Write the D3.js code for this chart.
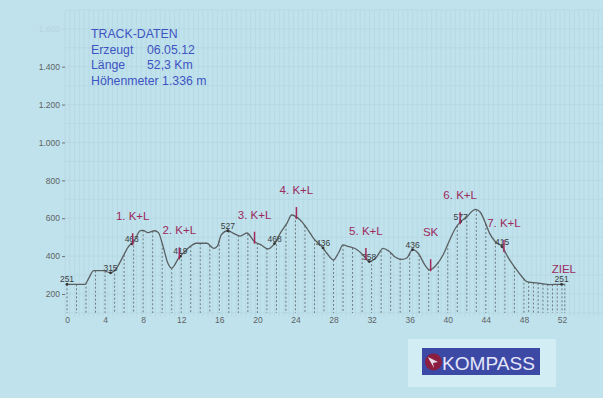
<!DOCTYPE html>
<html><head><meta charset="utf-8">
<script src="https://cdn.jsdelivr.net/npm/d3@7/dist/d3.min.js"></script>
<style>
html,body{margin:0;padding:0;background:#c0e2ec;}
svg{display:block;font-family:"Liberation Sans",Arial,sans-serif;}
</style></head>
<body>
<svg id="chart" width="603" height="398"></svg>
<script>
// ---- data ----
const profileKm   = [0, 1.9, 2.3, 2.8, 3.8, 4.57, 5.2, 5.7, 6.6, 6.9, 7.2, 7.7, 8.0, 8.5, 9.2, 9.6, 10.1, 10.6, 11.0, 11.3, 11.7, 12.2, 12.9, 13.6, 14.7, 15.4, 15.8, 16.2, 16.9, 17.6, 18.2, 18.9, 19.7, 20.4, 21.1, 21.8, 22.5, 23.1, 23.6, 24.0, 24.5, 25.2, 25.9, 26.9, 27.3, 28.0, 28.5, 29.0, 29.5, 30.4, 31.1, 31.75, 32.5, 33.2, 33.8, 34.5, 35.2, 35.7, 36.3, 36.9, 37.6, 38.1, 38.8, 39.5, 40.2, 40.8, 41.35, 42.0, 42.9, 43.4, 43.9, 44.4, 45.0, 45.7, 46.4, 47.1, 47.8, 48.3, 49.7, 50.7, 51.95, 52.3];
const profileElev = [251, 251, 285, 323, 323, 312, 336, 380, 459, 468, 494, 534, 536, 524, 534, 524, 450, 362, 336, 353, 388, 415, 450, 468, 468, 441, 453, 512, 534, 517, 506, 522, 476, 459, 438, 466, 529, 573, 617, 610, 591, 547, 494, 443, 415, 380, 415, 459, 452, 436, 406, 371, 394, 441, 427, 394, 383, 390, 434, 415, 353, 327, 353, 406, 485, 547, 582, 608, 647, 633, 582, 520, 476, 450, 388, 336, 291, 265, 256, 250, 251, 251];

const yTicks = [200, 400, 600, 800, 1000, 1200, 1400];
const yFaintTicks = [1600];
const xTicks = [0, 4, 8, 12, 16, 20, 24, 28, 32, 36, 40, 44, 48, 52];

const stopKm     = [6.9, 11.8, 19.7, 24.1, 31.4, 38.2, 41.3, 45.9];
const stopLabels = ["1. K+L", "2. K+L", "3. K+L", "4. K+L", "5. K+L", "SK", "6. K+L", "7. K+L"];

const heightKm     = [0, 4.57, 6.8, 11.9, 16.9, 21.8, 26.9, 31.75, 36.3, 41.35, 45.7, 51.95];
const heightLabels = ["251", "315", "463", "419", "527", "468", "436", "358", "436", "577", "415", "251"];

const finishKm = 52.3;
const finishLabel = "ZIEL";

const infoTitle = "TRACK-DATEN";
const infoRows = [["Erzeugt", "06.05.12"], ["Länge", "52,3 Km"], ["Höhenmeter 1.336 m", ""]];
const brandName = "KOMPASS";

// ---- drawing ----
const svg = d3.select("#chart");
const x = d3.scaleLinear().domain([0, 52]).range([67, 562]);
const y = d3.scaleLinear().domain([200, 1400]).range([294, 66.7]);
const de = d3.formatLocale({decimal: ",", thousands: ".", grouping: [3], currency: ["", " €"]});
const fmt = de.format(",");

// background
svg.append("rect").attr("width", 603).attr("height", 398).attr("fill", "#c0e2ec");

// faint grid
const grid = svg.append("g").attr("stroke", "#8fb9c8").attr("stroke-width", 0.6).attr("opacity", 0.3);
const gx = d3.range(-0.2, 56.5, 0.5);
grid.selectAll("line.v").data(gx).join("line")
  .attr("x1", d => x(d)).attr("x2", d => x(d))
  .attr("y1", 10).attr("y2", y(80));
const gy = d3.range(100, 1800, 100);
grid.selectAll("line.h").data(gy).join("line")
  .attr("x1", x(-0.2)).attr("x2", 603)
  .attr("y1", d => y(d)).attr("y2", d => y(d));

// interpolation helper over profile data
const profile = profileKm.map((k, i) => ({km: k, elev: profileElev[i]}));
const bis = d3.bisector(d => d.km).left;
function elevAt(k) {
  const i = Math.max(1, Math.min(profile.length - 1, bis(profile, k)));
  const a = profile[i - 1], b = profile[i];
  const t = (k - a.km) / (b.km - a.km);
  return a.elev + t * (b.elev - a.elev);
}

// dashed drop lines every km
const drops = d3.range(0, 53, 1).concat([48.5, 49.5, 50.5, 51.5, 52.3]);
svg.append("g").selectAll("line").data(drops).join("line")
  .attr("x1", d => x(d)).attr("x2", d => x(d))
  .attr("y1", d => y(elevAt(d))).attr("y2", y(100))
  .attr("stroke", "#5f6d73").attr("stroke-width", 0.9).attr("stroke-dasharray", "2,2");

// profile line
const line = d3.line().x(d => x(d.km)).y(d => y(d.elev)).curve(d3.curveMonotoneX);
svg.append("path").datum(profile).attr("d", line)
  .attr("fill", "none").attr("stroke", "#5a5f62").attr("stroke-width", 1.3);

// y axis
const yAxis = d3.axisLeft(y).tickValues(yTicks).tickFormat(fmt).tickSize(3).tickPadding(2);
const ya = svg.append("g").attr("transform", "translate(65,0)").call(yAxis);
const yAxis2 = d3.axisLeft(d3.scaleLinear().domain([200, 1600]).range([294, y(1600)]))
  .tickValues(yFaintTicks).tickFormat(fmt).tickSize(3).tickPadding(2);
const ya2 = svg.append("g").attr("transform", "translate(65,0)").attr("opacity", 0.1).call(yAxis2);
[ya, ya2].forEach(g => {
  g.select(".domain").remove();
  g.selectAll("line").attr("stroke", "#6d7275");
  g.selectAll("text").attr("fill", "#5d6265").attr("font-size", 8.5).attr("font-family", "Liberation Sans, Arial, sans-serif");
});

// x axis
const xAxis = d3.axisBottom(x).tickValues(xTicks).tickFormat(d3.format("d")).tickSize(0).tickPadding(4);
const xa = svg.append("g").attr("transform", `translate(0,${y(100)})`).call(xAxis);
xa.select(".domain").remove();
xa.selectAll("text").attr("fill", "#5d6265").attr("font-size", 8.5).attr("font-family", "Liberation Sans, Arial, sans-serif");

// height labels with dots
const hl = svg.append("g");
heightKm.forEach((k, i) => {
  const px = x(k), py = y(elevAt(k));
  hl.append("circle").attr("cx", px).attr("cy", py).attr("r", 1.4).attr("fill", "#333");
  hl.append("text").attr("x", px).attr("y", py - 2).attr("text-anchor", "middle")
    .attr("font-size", 8.5).attr("fill", "#3a3d40").text(heightLabels[i]);
});

// stop markers and labels
const mk = svg.append("g");
stopKm.forEach((k, i) => {
  const px = x(k), py = y(elevAt(k));
  mk.append("line").attr("x1", px).attr("x2", px).attr("y1", py - 10).attr("y2", py + 2)
    .attr("stroke", "#a3295a").attr("stroke-width", 1.5);
  const lift = stopLabels[i] === "SK" ? 33 : 23;
  mk.append("text").attr("x", px).attr("y", py - lift).attr("text-anchor", "middle")
    .attr("font-size", 11.5).attr("fill", "#9c2a5c").text(stopLabels[i]);
});
svg.append("text").attr("x", x(finishKm) - 1).attr("y", y(elevAt(finishKm)) - 11)
  .attr("text-anchor", "middle").attr("font-size", 11.5).attr("fill", "#9c2a5c").text(finishLabel);

// info block
const info = svg.append("g").attr("fill", "#3e54c2").attr("font-size", 12.3);
info.append("text").attr("x", 91).attr("y", 37.7).text(infoTitle);
infoRows.forEach((r, i) => {
  const by = 53.5 + i * 15.6;
  info.append("text").attr("x", 91).attr("y", by).text(r[0]);
  if (r[1]) info.append("text").attr("x", 147).attr("y", by).text(r[1]);
});

// brand logo
const logo = svg.append("g");
logo.append("rect").attr("x", 408).attr("y", 339).attr("width", 148).attr("height", 48).attr("fill", "#d3edf4");
logo.append("rect").attr("x", 422).attr("y", 348).attr("width", 118).attr("height", 27).attr("fill", "#3c49a5");
logo.append("circle").attr("cx", 433.5).attr("cy", 362).attr("r", 8.5).attr("fill", "#8c1e40");
logo.append("path").attr("d", "M428,357 L438,362 L433,363 L434,368 L430,361 Z").attr("fill", "#e8dde8");
logo.append("text").attr("x", 442).attr("y", 369.5).attr("font-size", 19).attr("fill", "#e4e6fb")
  .attr("textLength", 93).attr("lengthAdjust", "spacingAndGlyphs").text(brandName);
</script>
</body></html>
